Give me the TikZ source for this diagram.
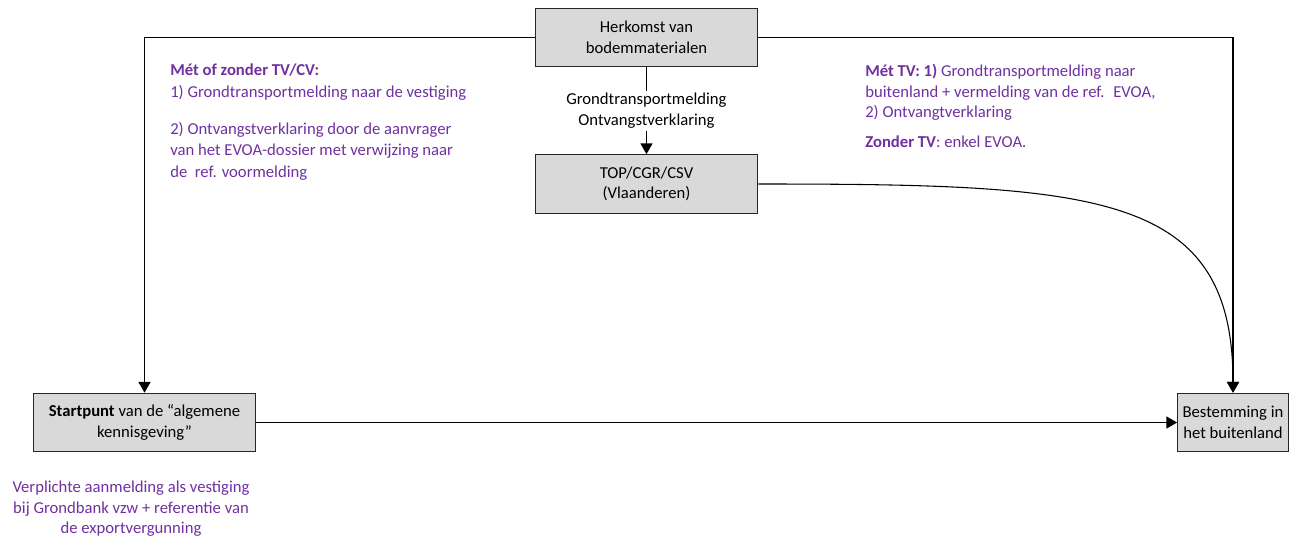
\documentclass[tikz,border=0pt]{standalone}
\usepackage{fontspec}
\setmainfont{Carlito}
\usepackage{xcolor}
\usepackage{tikz}
\usetikzlibrary{positioning}
\usetikzlibrary{shapes,arrows.meta}
\definecolor{paars}{HTML}{7030A0}
\definecolor{grijs}{HTML}{D9D9D9}
\tikzstyle{block} = [rectangle, draw=black!85, line width=0.8pt, fill=grijs,
minimum width=167pt, minimum height=44pt, inner sep=0pt, align=center, font=\fontsize{12.5}{15.4}\selectfont]
\tikzstyle{line} = [draw, line width=0.8pt, -{Triangle[width=9pt,length=8pt]}]
\tikzstyle{note} = [text=paars, inner sep=0pt, font=\fontsize{12.5}{15.4}\selectfont]

\begin{document}
\begin{tikzpicture}[x=0.75pt, y=-0.75pt]
    \useasboundingbox (0,0) rectangle (1296,537);
    % nodes
    \node [block] (herkomst) at (646.5,37.5) {Herkomst van\\bodemmaterialen};
    \node [block] (top) at (646.5,184) {TOP/CGR/CSV\\(Vlaanderen)};
    \node [block] (startpunt) at (144.5,422.5) {\textbf{Startpunt} van de “algemene\\kennisgeving”};
    \node [block, minimum width=83pt] (bestemming) at (1233,422.5) {Bestemming in\\het buitenland};
    \node [note, anchor=north west, align=left, font=\fontsize{12.5}{16}\selectfont] (metofzonder) at (170,64) {\textbf{Mét of zonder TV/CV:}\\1) Grondtransportmelding naar de vestiging\\[12pt]2) Ontvangstverklaring door de aanvrager\\van het EVOA-dossier met verwijzing naar\\de \ ref. voormelding};
    \node [note, anchor=north west, align=left] (mettv) at (865,64) {\textbf{Mét TV: 1)} Grondtransportmelding naar\\buitenland + vermelding van de ref. \ EVOA,\\2) Ontvangtverklaring\\[7pt]\textbf{Zonder TV}: enkel EVOA.};
    \node [note, anchor=north, align=center] (aanmelding) at (131,481) {Verplichte aanmelding als vestiging\\bij Grondbank vzw + referentie van\\de exportvergunning};

    % edges
    \path [line] (herkomst.west) -| (startpunt.north);
    \path [line] (herkomst.east) -| (bestemming.north);
    \path [line] (herkomst) -- node [fill=white, inner sep=2pt, align=center, font=\fontsize{12.5}{15.4}\selectfont] {Grondtransportmelding\\Ontvangstverklaring} (top);
    \path [line] (top.east) .. controls +(342,0) and +(0,-200) .. (bestemming.north);
    \path [line] (startpunt) -- (bestemming);
\end{tikzpicture}
\end{document}
